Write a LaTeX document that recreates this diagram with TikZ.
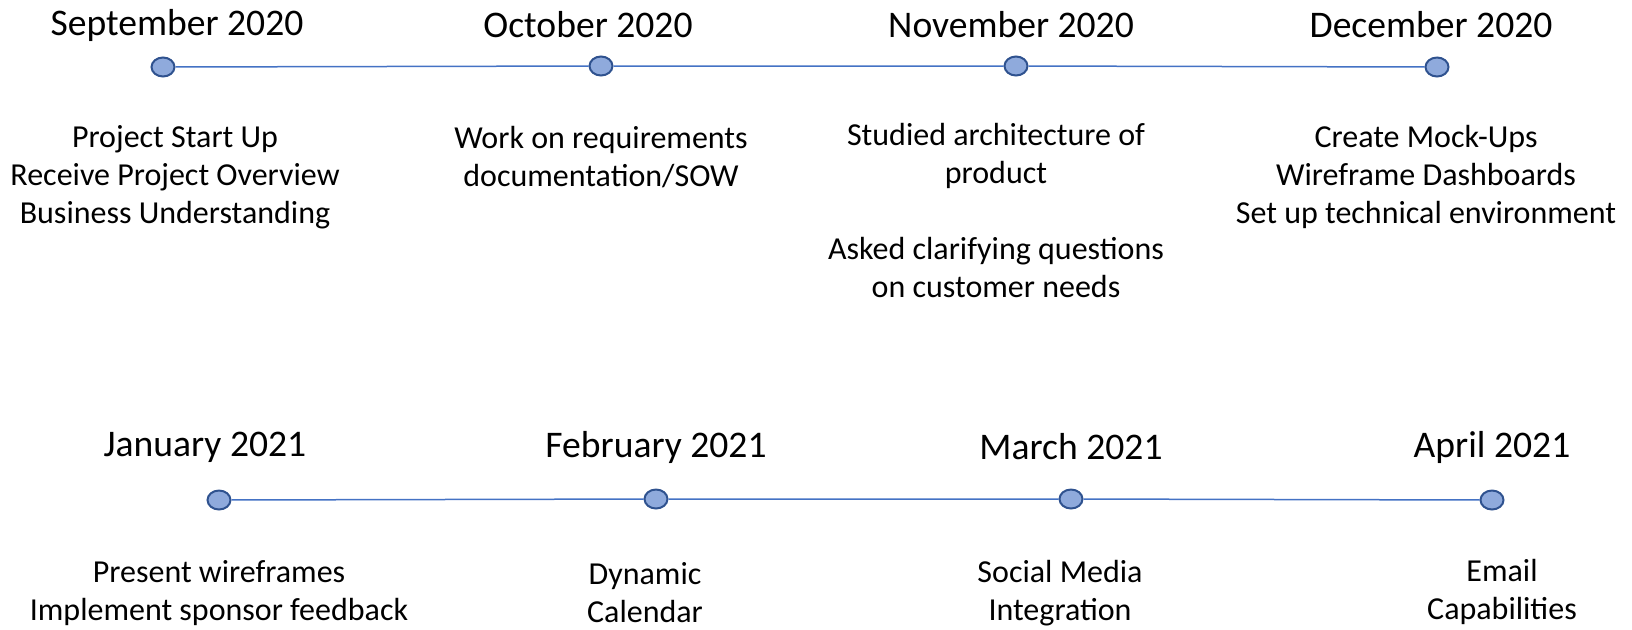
\documentclass[tikz,border=0pt]{standalone}
\usepackage{fontspec}
\setmainfont{Carlito}
\usepackage{tikz}
\usetikzlibrary{shapes.geometric}

\definecolor{lineblue}{HTML}{4472C4}
\definecolor{dotfill}{HTML}{8FAADC}
\definecolor{dotedge}{HTML}{2F528F}

\begin{document}
\begin{tikzpicture}[x=0.5pt,y=-0.5pt,
    month/.style={text=black,font=\fontsize{18.8}{22.5}\selectfont},
    task/.style={text=black,align=center,font=\fontsize{16}{19}\selectfont},
    dot/.style={ellipse,draw=dotedge,fill=dotfill,line width=1pt,minimum width=11.5pt,minimum height=9.5pt,inner sep=0pt},
    link/.style={draw=lineblue,line width=0.75pt}]
              \useasboundingbox (0,0) rectangle (1632,629);
              % Draw top row of dots
              \node[dot] (sep) at (163,67) {};
              \node[dot] (oct) at (601,66) {};
              \node[dot] (nov) at (1016,66) {};
              \node[dot] (dec) at (1437,67) {};
              % Draw bottom row of dots
              \node[dot] (jan) at (219,500) {};
              \node[dot] (feb) at (656,499) {};
              \node[dot] (mar) at (1071,499) {};
              \node[dot] (apr) at (1492,500) {};
              % Draw the two time lines between the dots
              \path[link] (sep) -- (oct) -- (nov) -- (dec);
              \path[link] (jan) -- (feb) -- (mar) -- (apr);
              % Month titles, 2020
              \node[month] (sept) at (177,25) {September 2020};
              \node[month] (octt) at (588,25) {October 2020};
              \node[month] (novt) at (1011,25) {November 2020};
              \node[month] (dect) at (1431,25) {December 2020};
              % Month titles, 2021
              \node[month] (jant) at (205,447) {January 2021};
              \node[month] (febt) at (656,447) {February 2021};
              \node[month] (mart) at (1071,447) {March 2021};
              \node[month] (aprt) at (1492,447) {April 2021};
              % Tasks, 2020
              \node[task] (sepx) at (175,177) {Project Start Up\\Receive Project Overview\\Business Understanding};
              \node[task] (octx) at (601,157) {Work on requirements\\documentation/SOW};
              \node[task] (novx) at (996,210) {Studied architecture of\\product\\[19pt]Asked clarifying questions\\on customer needs};
              \node[task] (decx) at (1426,177) {Create Mock-Ups\\Wireframe Dashboards\\Set up technical environment};
              % Tasks, 2021
              \node[task] (janx) at (219,593) {Present wireframes\\Implement sponsor feedback};
              \node[task] (febx) at (645,593) {Dynamic\\Calendar};
              \node[task] (marx) at (1060,593) {Social Media\\Integration};
              \node[task] (aprx) at (1502,592) {Email\\Capabilities};
            \end{tikzpicture}
\end{document}
